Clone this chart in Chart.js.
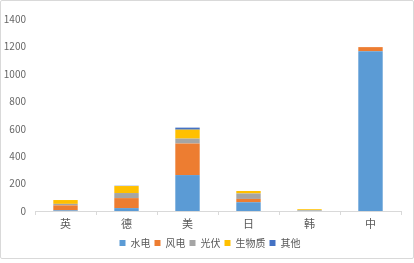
<!DOCTYPE html>
<html>
<head>
<meta charset="utf-8">
<script src="https://cdn.jsdelivr.net/npm/chart.js@4/dist/chart.umd.min.js"></script>
<style>
  html, body { margin: 0; padding: 0; background: #ffffff; }
  #frame {
    position: absolute; left: 0; top: 0;
    width: 412px; height: 257px;
    border: 1px solid #d9d9d9; border-radius: 2px;
    background: #ffffff;
  }
</style>
</head>
<body>
<div id="frame"><canvas id="chart"></canvas></div>
<script>
// Countries on the category axis
const countries = ['英', '德', '美', '日', '韩', '中'];

// Generation by source for each country
const hydro   = [5,   21,  262, 64, 2, 1165];
const wind    = [36,  73,  230, 24, 1, 30];
const solar   = [11,  37,  36,  40, 3, 0];
const biomass = [28,  51,  65,  18, 7, 0];
const other   = [0,   2,   15,  0,  0, 0];

const seriesNames = ['水电', '风电', '光伏', '生物质', '其他'];
const seriesValues = [hydro, wind, solar, biomass, other];
const seriesColors = ['#5b9bd5', '#ed7d31', '#a5a5a5', '#ffc000', '#4472c4'];

// Value axis range and its tick labels
const yMin = 0;
const yMax = 1400;
const yStep = 200;
const yTickLabels = ['0', '200', '400', '600', '800', '1000', '1200', '1400'];

Chart.defaults.font.family = '"Noto Sans CJK SC", "DejaVu Sans", sans-serif';
Chart.defaults.color = '#595959';

const datasets = seriesNames.map((name, i) => ({
  label: name,
  data: seriesValues[i],
  backgroundColor: seriesColors[i],
  borderWidth: 0,
  barPercentage: 0.4,
  categoryPercentage: 1.0
}));

new Chart(document.getElementById('chart'), {
  type: 'bar',
  data: { labels: countries, datasets: datasets },
  options: {
    responsive: true,
    maintainAspectRatio: false,
    animation: false,
    // the legend row sits a little right of centre; the right margin is
    // made up by an empty spacer axis on that side
    layout: { padding: { left: 0, right: -6, top: 18, bottom: 0 } },
    plugins: {
      tooltip: { enabled: false },
      legend: {
        position: 'bottom',
        labels: {
          boxWidth: 6,
          boxHeight: 6,
          padding: 4,
          color: '#595959',
          font: { size: 10 }
        }
      }
    },
    scales: {
      x: {
        stacked: true,
        grid: {
          display: true,
          drawOnChartArea: false,
          drawTicks: true,
          tickLength: 4,
          color: '#d9d9d9',
          offset: true
        },
        border: { display: true, color: '#d9d9d9' },
        ticks: { color: '#595959', font: { size: 11 }, padding: 2 },
        afterFit: (s) => { s.height = 23; }
      },
      y: {
        stacked: true,
        min: yMin,
        max: yMax,
        grid: { display: false, drawTicks: false },
        border: { display: false },
        ticks: {
          stepSize: yStep,
          color: '#666666',
          font: { size: 10 },
          padding: 9,
          callback: (v, i) => yTickLabels[i]
        },
        afterFit: (s) => { s.width = 34; }
      },
      spacer: {
        type: 'linear',
        position: 'right',
        display: true,
        grid: { display: false, drawTicks: false },
        border: { display: false },
        ticks: { display: false },
        afterFit: (s) => { s.width = 18; }
      }
    }
  }
});
</script>
</body>
</html>
